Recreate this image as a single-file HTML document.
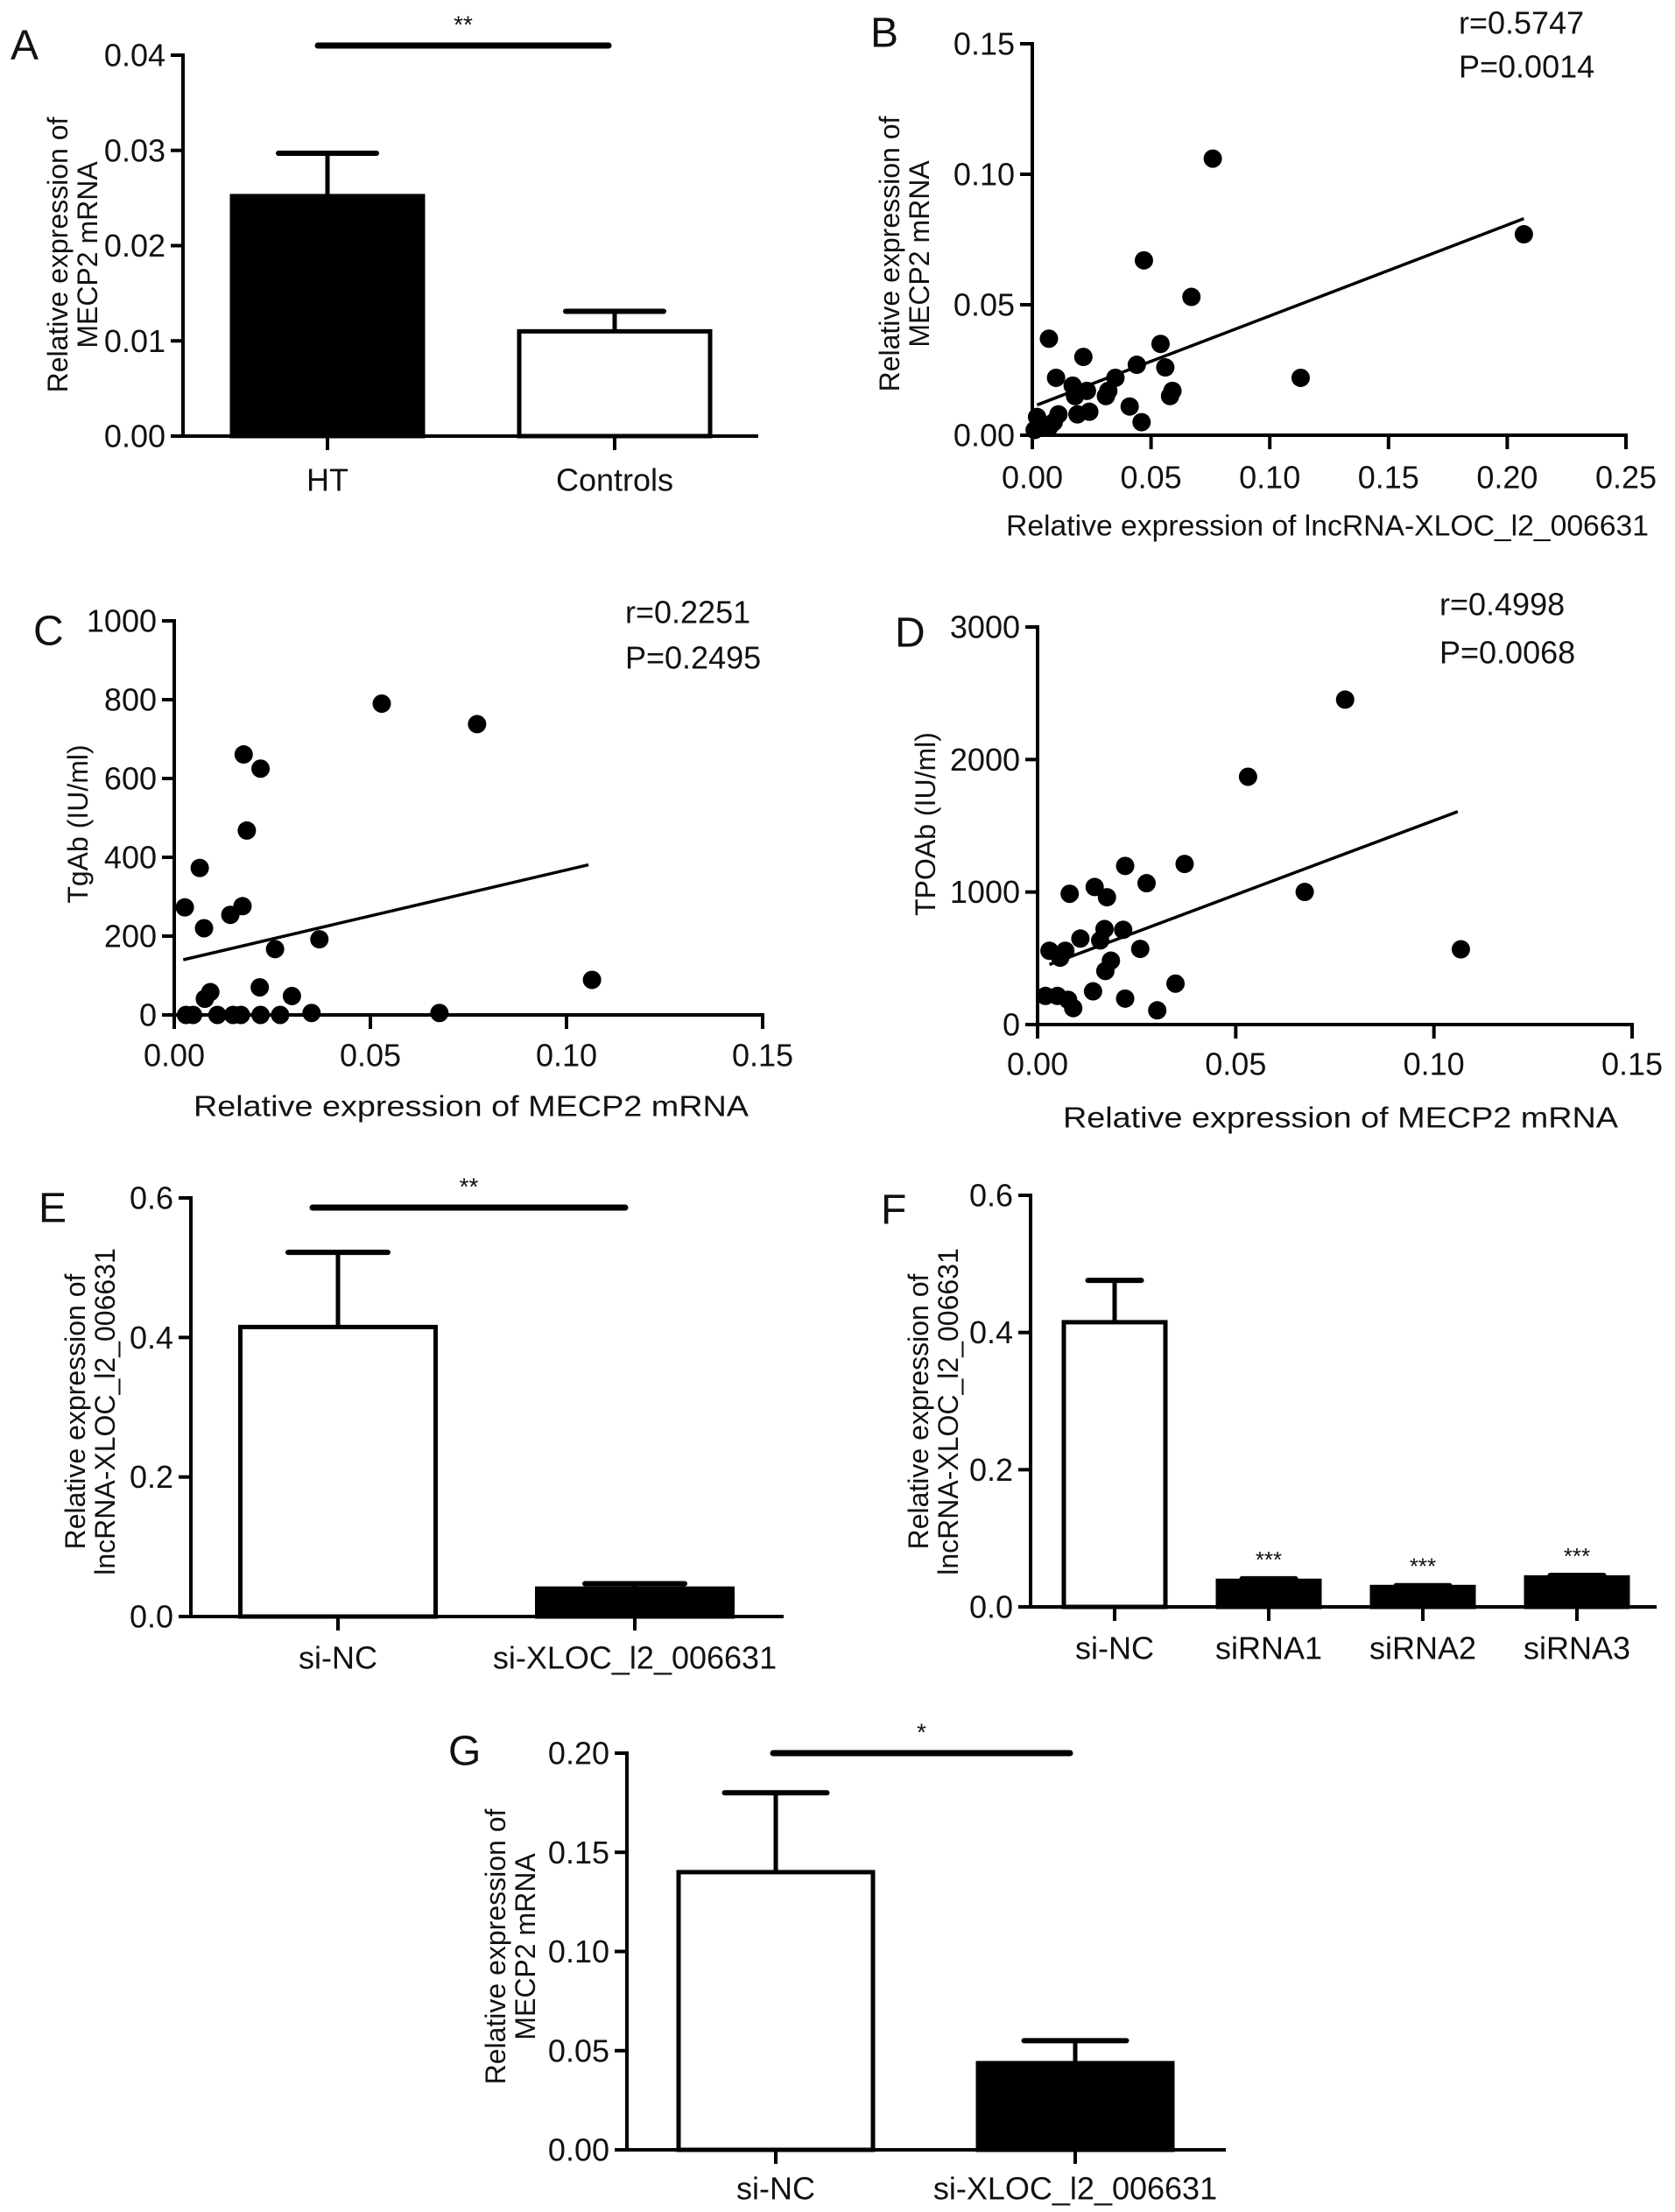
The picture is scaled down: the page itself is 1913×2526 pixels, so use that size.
<!DOCTYPE html>
<html><head><meta charset="utf-8"><style>
html,body{margin:0;padding:0;background:#fff;}
svg{display:block;font-family:"Liberation Sans",Arial,sans-serif;}
</style></head><body>
<svg id="fig" xmlns="http://www.w3.org/2000/svg" width="1913" height="2526" viewBox="0 0 1913 2526">
<rect width="1913" height="2526" fill="#fff"/>
</svg>
<script>
// ---------- Panel A data ----------
const A_cats = ["HT", "Controls"];
const A_vals = [0.0252, 0.011];
const A_errs = [0.0297, 0.0131];
const A_ticks = [0, 0.01, 0.02, 0.03, 0.04];
const A_tickLabels = ["0.00", "0.01", "0.02", "0.03", "0.04"];
// ---------- Panel B data ----------
const B_x = [0.076,0.207,0.047,0.067,0.007,0.054,0.0215,0.044,0.056,0.010,0.113,0.035,0.032,0.017,0.023,0.059,0.058,0.018,0.031,0.041,0.024,0.019,0.046,0.011,0.002,0.003,0.007,0.001,0.009,0.005];
const B_y = [0.106,0.077,0.067,0.053,0.037,0.035,0.030,0.027,0.026,0.022,0.022,0.022,0.017,0.019,0.017,0.017,0.015,0.015,0.015,0.011,0.009,0.008,0.005,0.008,0.007,0.005,0.003,0.002,0.005,0.003];
const B_fitX = [0.002, 0.207];
const B_fitY = [0.0116, 0.083];
const B_xTicks = [0, 0.05, 0.10, 0.15, 0.20, 0.25];
const B_xTickLabels = ["0.00","0.05","0.10","0.15","0.20","0.25"];
const B_yTicks = [0, 0.05, 0.10, 0.15];
const B_yTickLabels = ["0.00","0.05","0.10","0.15"];
// ---------- Panel C data ----------
const C_x = [0.0529,0.0772,0.0177,0.022,0.0185,0.0065,0.0027,0.0076,0.0143,0.0174,0.0257,0.037,0.1065,0.0218,0.030,0.0092,0.0078,0.0676,0.003,0.0048,0.011,0.015,0.017,0.022,0.027,0.035];
const C_y = [790,738,661,625,468,373,273,220,254,276,167,192,89,70,48,58,41,5,0,0,0,0,0,0,0,5];
const C_fitX = [0.0023, 0.1056];
const C_fitY = [140, 381];
const C_xTicks = [0, 0.05, 0.10, 0.15];
const C_xTickLabels = ["0.00","0.05","0.10","0.15"];
const C_yTicks = [0, 200, 400, 600, 800, 1000];
const C_yTickLabels = ["0","200","400","600","800","1000"];
// ---------- Panel D data ----------
const D_x = [0.0776,0.0531,0.0674,0.1068,0.0371,0.0221,0.0275,0.0081,0.0144,0.0175,0.0169,0.0216,0.0108,0.0158,0.003,0.007,0.0057,0.0259,0.0185,0.0171,0.014,0.0221,0.0348,0.0302,0.002,0.005,0.0077,0.009];
const D_y = [2452,1870,1001,568,1212,1197,1067,987,1038,961,721,715,649,635,557,557,505,571,482,404,251,196,309,107,216,216,187,124];
const D_fitX = [0.003, 0.106];
const D_fitY = [453, 1607];
const D_xTicks = [0, 0.05, 0.10, 0.15];
const D_xTickLabels = ["0.00","0.05","0.10","0.15"];
const D_yTicks = [0, 1000, 2000, 3000];
const D_yTickLabels = ["0","1000","2000","3000"];
// ---------- Panel E data ----------
const E_cats = ["si-NC", "si-XLOC_l2_006631"];
const E_vals = [0.415, 0.040];
const E_errs = [0.522, 0.047];
const E_ticks = [0, 0.2, 0.4, 0.6];
const E_tickLabels = ["0.0","0.2","0.4","0.6"];
// ---------- Panel F data ----------
const F_cats = ["si-NC", "siRNA1", "siRNA2", "siRNA3"];
const F_vals = [0.415, 0.038, 0.029, 0.043];
const F_errs = [0.476, 0.041, 0.031, 0.046];
const F_ticks = [0, 0.2, 0.4, 0.6];
const F_tickLabels = ["0.0","0.2","0.4","0.6"];
// ---------- Panel G data ----------
const G_cats = ["si-NC", "si-XLOC_l2_006631"];
const G_vals = [0.14, 0.0437];
const G_errs = [0.18, 0.055];
const G_ticks = [0, 0.05, 0.10, 0.15, 0.20];
const G_tickLabels = ["0.00","0.05","0.10","0.15","0.20"];

const NS = "http://www.w3.org/2000/svg";
const svg = document.getElementById("fig");
function el(tag, attrs, parent, text) {
  const e = document.createElementNS(NS, tag);
  for (const k in attrs) e.setAttribute(k, attrs[k]);
  if (text !== undefined) e.textContent = text;
  (parent || svg).appendChild(e);
  return e;
}
function group(name) {
  const g = document.createElementNS(NS, "g");
  
  
  svg.appendChild(g);
  return g;
}
function txt(g, name, x, y, s, size, anchor, extra) {
  const t = el("text", Object.assign({x: x, y: y, "font-size": size, "text-anchor": anchor || "middle", "dominant-baseline": "central", fill: "#111"}, extra || {}), g, s);
  
  
  return t;
}
function ytitle(g, name, cx, cy, lines, size, lh) {
  const t = el("text", {transform: "translate(" + cx + "," + cy + ") rotate(-90)", "font-size": size, "text-anchor": "middle", fill: "#111"}, g);
  
  
  const n = lines.length;
  lines.forEach((s, i) => {
    el("tspan", {x: 0, y: (i - (n - 1) / 2) * lh + size * 0.35}, t, s);
  });
}

function barChart(p, cats, vals, errs, ticks, tickLabels, fills) {
  const g = group(p.name);
  const ymax = ticks[ticks.length - 1];
  const ys = v => p.yBot - (v / ymax) * (p.yBot - p.yTop);
  const xc = i => p.x0 + p.off + i * p.step;
  cats.forEach((c, i) => {
    const cx = xc(i), w = p.bw, top = ys(vals[i]);
    const r = el("rect", {x: cx - w / 2 + 2.5, y: top, width: w - 5, height: p.yBot - top, fill: fills[i], stroke: "#000", "stroke-width": 5}, g);
    
    
    const e1 = el("line", {x1: cx, x2: cx, y1: top, y2: ys(errs[i]), stroke: "#000", "stroke-width": 5}, g);
    
    
    const e2 = el("line", {x1: cx - p.cap / 2, x2: cx + p.cap / 2, y1: ys(errs[i]), y2: ys(errs[i]), stroke: "#000", "stroke-width": 6, "stroke-linecap": "round"}, g);
    
    
    const tk = el("line", {x1: cx, x2: cx, y1: p.yBot, y2: p.yBot + 16, stroke: "#000", "stroke-width": 4}, g);
    
    
    txt(g, 'x-label-' + c.toLowerCase(), cx, p.labY, c, p.catSize || 36);
    if (p.stars && p.stars[i]) txt(g, 'significance-stars', cx, ys(errs[i]) - 22, p.stars[i], 26);
  });
  const ya = el("line", {x1: p.x0, x2: p.x0, y1: p.yTop - 2, y2: p.yBot + 2, stroke: "#000", "stroke-width": 4}, g);
  
  
  const xa = el("line", {x1: p.x0 - 14, x2: p.x1, y1: p.yBot, y2: p.yBot, stroke: "#000", "stroke-width": 4}, g);
  
  
  ticks.forEach((t, i) => {
    const y = ys(t);
    const tl = el("line", {x1: p.x0 - 14, x2: p.x0, y1: y, y2: y, stroke: "#000", "stroke-width": 4}, g);
    
    
    txt(g, 'y-tick-label', p.x0 - 20, y, tickLabels[i], 36, "end");
  });
  if (p.sig) {
    const sl = el("line", {x1: p.sig.x1, x2: p.sig.x2, y1: p.sig.y, y2: p.sig.y, stroke: "#000", "stroke-width": 7, "stroke-linecap": "round"}, g);
    
    
    txt(g, 'significance-stars', (p.sig.x1 + p.sig.x2) / 2, p.sig.y - 24, p.sig.s, 28);
  }
  ytitle(g, 'y-axis-title', p.tcx, p.tcy, p.title, 32, 34);
  txt(g, 'panel-label', p.lx, p.ly, p.label, 48, "start");
}

function scatter(p, xs, yv, fx, fy, xt, xtl, yt, ytl) {
  const g = group(p.name);
  const xmax = xt[xt.length - 1], ymax = yt[yt.length - 1];
  const sx = v => p.x0 + v / xmax * (p.x1 - p.x0);
  const sy = v => p.yBot - v / ymax * (p.yBot - p.yTop);
  const ya = el("line", {x1: p.x0, x2: p.x0, y1: p.yTop - 2, y2: p.yBot + 16, stroke: "#000", "stroke-width": 4}, g);
  
  
  const xa = el("line", {x1: p.x0 - 14, x2: p.x1 + 2, y1: p.yBot, y2: p.yBot, stroke: "#000", "stroke-width": 4}, g);
  
  
  xt.forEach((t, i) => {
    const x = sx(t);
    const tl = el("line", {x1: x, x2: x, y1: p.yBot, y2: p.yBot + 16, stroke: "#000", "stroke-width": 4}, g);
    
    
    txt(g, 'x-tick-label', x, p.xlabY, xtl[i], 36);
  });
  yt.forEach((t, i) => {
    const y = sy(t);
    const tl = el("line", {x1: p.x0 - 14, x2: p.x0, y1: y, y2: y, stroke: "#000", "stroke-width": 4}, g);
    
    
    txt(g, 'y-tick-label', p.x0 - 20, y, ytl[i], 36, "end");
  });
  xs.forEach((v, i) => {
    const c = el("circle", {cx: sx(v), cy: sy(yv[i]), r: 10.5, fill: "#000"}, g);
    
    
  });
  const fl = el("line", {x1: sx(fx[0]), y1: sy(fy[0]), x2: sx(fx[1]), y2: sy(fy[1]), stroke: "#000", "stroke-width": 3.5}, g);
  
  
  txt(g, 'x-axis-title', p.tx, p.ty, p.xtitle, 33, "middle", {textLength: p.tlen, lengthAdjust: "spacingAndGlyphs"});
  ytitle(g, 'y-axis-title', p.ytx, p.yty, p.ytitle, 32, 34);
  txt(g, 'r-value', p.rx, p.ry1, p.r, 36, "start");
  txt(g, 'p-value', p.rx, p.ry2, p.pv, 36, "start");
  txt(g, 'panel-label', p.lx, p.ly, p.label, 48, "start");
}

barChart({name: "panel-a", x0: 209, x1: 866, yTop: 63, yBot: 498, off: 165, step: 328, bw: 223, cap: 112, labY: 548,
  sig: {x1: 363, x2: 695, y: 52, s: "**"}, tcx: 83, tcy: 291, title: ["Relative expression of", "MECP2 mRNA"], lx: 12, ly: 52, label: "A"},
  A_cats, A_vals, A_errs, A_ticks, A_tickLabels, ["#000", "#fff"]);

scatter({name: "panel-b", x0: 1179, x1: 1857, yTop: 50, yBot: 497, xlabY: 545, tx: 1516, ty: 600, tlen: 734,
  xtitle: "Relative expression of lncRNA-XLOC_l2_006631", ytx: 1033, yty: 290, ytitle: ["Relative expression of", "MECP2 mRNA"],
  rx: 1666, ry1: 26, ry2: 76, r: "r=0.5747", pv: "P=0.0014", lx: 994, ly: 38, label: "B"},
  B_x, B_y, B_fitX, B_fitY, B_xTicks, B_xTickLabels, B_yTicks, B_yTickLabels);

scatter({name: "panel-c", x0: 199, x1: 871, yTop: 709, yBot: 1159, xlabY: 1205, tx: 538, ty: 1263, tlen: 634,
  xtitle: "Relative expression of MECP2 mRNA", ytx: 89, yty: 941, ytitle: ["TgAb (IU/ml)"],
  rx: 714, ry1: 699, ry2: 751, r: "r=0.2251", pv: "P=0.2495", lx: 38, ly: 721, label: "C"},
  C_x, C_y, C_fitX, C_fitY, C_xTicks, C_xTickLabels, C_yTicks, C_yTickLabels);

scatter({name: "panel-d", x0: 1185, x1: 1864, yTop: 716, yBot: 1170, xlabY: 1215, tx: 1531, ty: 1276, tlen: 634,
  xtitle: "Relative expression of MECP2 mRNA", ytx: 1057, yty: 941, ytitle: ["TPOAb (IU/ml)"],
  rx: 1644, ry1: 690, ry2: 745, r: "r=0.4998", pv: "P=0.0068", lx: 1022, ly: 723, label: "D"},
  D_x, D_y, D_fitX, D_fitY, D_xTicks, D_xTickLabels, D_yTicks, D_yTickLabels);

barChart({name: "panel-e", x0: 218, x1: 895, yTop: 1368, yBot: 1846, off: 168, step: 339, bw: 228, cap: 114, labY: 1893,
  sig: {x1: 357, x2: 714, y: 1379, s: "**"}, tcx: 103, tcy: 1612, title: ["Relative expression of", "lncRNA-XLOC_l2_006631"], lx: 44, ly: 1380, label: "E"},
  E_cats, E_vals, E_errs, E_ticks, E_tickLabels, ["#fff", "#000"]);

barChart({name: "panel-f", x0: 1177, x1: 1892, yTop: 1365, yBot: 1835, off: 96, step: 176, bw: 121, cap: 61, labY: 1882,
  stars: ["", "***", "***", "***"], tcx: 1066, tcy: 1612, title: ["Relative expression of", "lncRNA-XLOC_l2_006631"], lx: 1006, ly: 1382, label: "F"},
  F_cats, F_vals, F_errs, F_ticks, F_tickLabels, ["#fff", "#000", "#000", "#000"]);

barChart({name: "panel-g", x0: 716, x1: 1400, yTop: 2002, yBot: 2455, off: 170, step: 342, bw: 227, cap: 117, labY: 2499,
  sig: {x1: 883, x2: 1222, y: 2002, s: "*"}, tcx: 583, tcy: 2223, title: ["Relative expression of", "MECP2 mRNA"], lx: 512, ly: 2000, label: "G"},
  G_cats, G_vals, G_errs, G_ticks, G_tickLabels, ["#fff", "#000"]);
</script>
</body></html>
